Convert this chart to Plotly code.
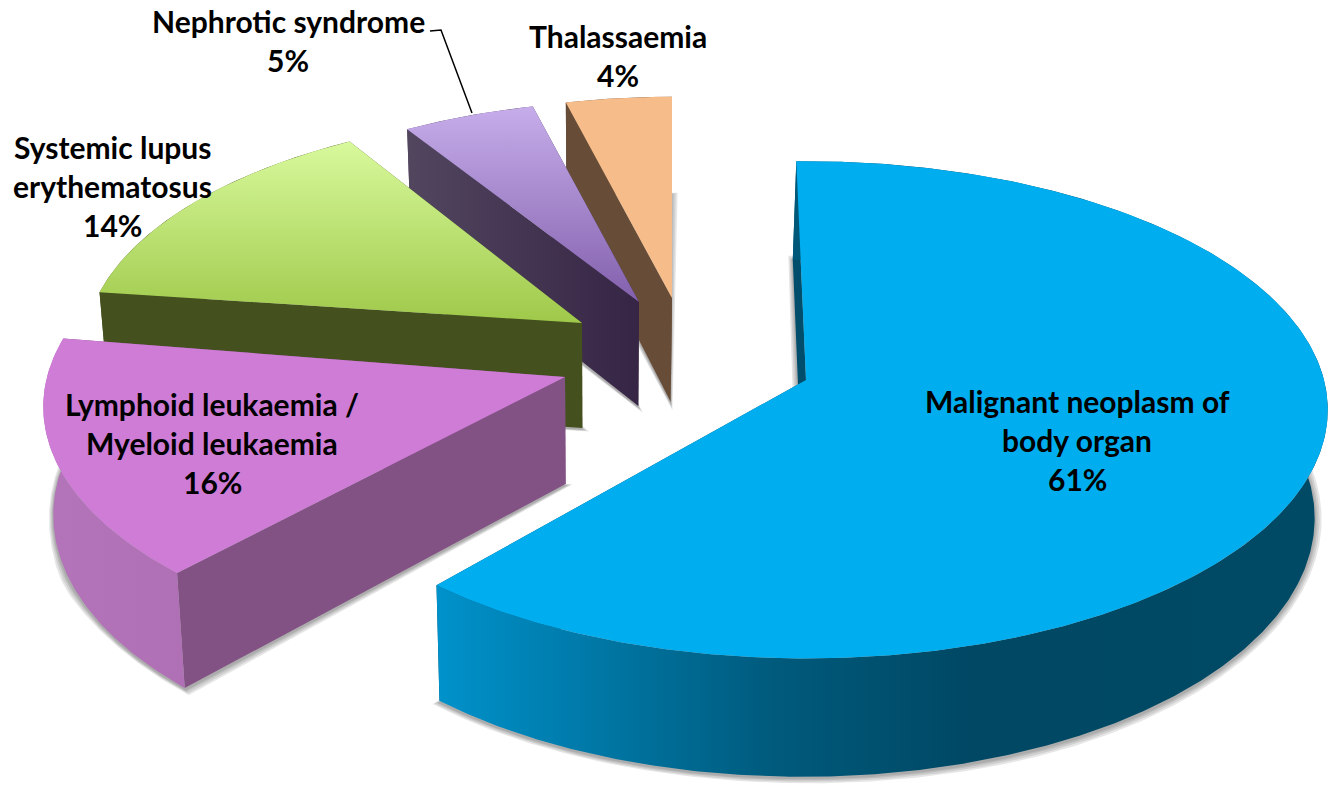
import numpy as np
import plotly.graph_objects as go

categories = ["Malignant neoplasm of body organ",
              "Lymphoid leukaemia / Myeloid leukaemia",
              "Systemic lupus erythematosus",
              "Nephrotic syndrome",
              "Thalassaemia"]
shares = [61, 16, 14, 5, 4]
label_lines = [["Malignant neoplasm of", "body organ"],
               ["Lymphoid leukaemia /", "Myeloid leukaemia"],
               ["Systemic lupus", "erythematosus"],
               ["Nephrotic syndrome"],
               ["Thalassaemia"]]

# exploded-slice layout and look (pixel axes), one entry per slice
apex = [(806, 380), (565, 377), (582, 323), (639, 302), (672, 298)]
scale = [1.0, 1.0, 0.955, 0.92, 0.92]
rot = [(-1.2, 0.8), (3.5, 2.0), (0.5, 1.2), (0, 0), (0, 0)]
label_xy = [(1077, 401), (212, 404), (112, 147), (288, 21), (618, 36)]
top_fill = [
    dict(color="#00AEEF"),
    dict(color="#CE7CD6"),
    dict(v=[[0, "#D8F99C"], [1, "#9FC94A"]]),
    dict(v=[[0, "#C6ADEA"], [1, "#8360AD"]]),
    dict(color="#F6BD8B"),
]
rim_fill = [
    [[0, "#0092CB"], [0.38, "#005A7C"], [0.6, "#004864"], [1, "#004A66"]],
    [[0, "#B374B9"], [1, "#A765AC"]],
    [[0, "#44511F"], [1, "#44511F"]],
    [[0, "#52465F"], [1, "#362545"]],
    [[0, "#674D38"], [1, "#674D38"]],
]
edge_fill = [
    [[0, "#004E6C"], [1, "#004E6C"]],
    [[0, "#835285"], [1, "#835285"]],
    [[0, "#44511F"], [1, "#44511F"]],
    [[0, "#52465F"], [1, "#362545"]],
    [[0, "#674D38"], [1, "#674D38"]],
]

A, B, K = 518.0, 245.0, 0.12


def rim(t0, t1, ax, s):
    """Project an arc of the tilted disc, in perspective, around a slice's apex."""
    t = np.radians(np.linspace(t0, t1, max(12, int(abs(t1 - t0) * 2))))
    u, v = np.sin(t), -np.cos(t)
    d = 1 - K * v
    return ax[0] + s * A * u / d, ax[1] + s * B * v / d


def drop(x, y):
    """Where a top-face point lands on the underside of the pie."""
    return x - (x - 600) * 0.018, y + 92 + 0.04 * y


fig = go.Figure()


def poly(x, y, **kw):
    fig.add_trace(go.Scatter(x=list(x) + [x[0]], y=list(y) + [y[0]], mode="lines",
                             fill="toself", line=dict(width=0), hoverinfo="skip",
                             showlegend=False, **kw))


edges = np.cumsum([0] + shares) / sum(shares) * 360

for i in [4, 3, 2, 1, 0]:
    ax, s = apex[i], scale[i]
    t0, t1 = edges[i] + rot[i][0], edges[i + 1] + rot[i][1]
    rx, ry = rim(t0, t1, ax, s)
    bx, by = drop(rx, ry)
    abx, aby = drop(ax[0], ax[1])
    x_lo, x_hi = float(min(rx.min(), ax[0])), float(max(rx.max(), ax[0]))

    # soft shadow: the underside, widened in a few translucent steps
    fx = np.r_[ax[0], rx]
    fy = np.r_[ax[1], ry]
    gx, gy = drop(fx, fy)
    cx, cy = gx.mean(), gy.mean()
    for grow in (7, 5, 3, 1.5):
        n = np.hypot(gx - cx, gy - cy) + 1e-6
        poly(gx + (gx - cx) / n * grow, gy + (gy - cy) / n * grow + 1.5,
             fillcolor="rgba(60,60,60,0.13)")

    # flat cut faces
    for tx, ty, bbx, bby in [(rx[0], ry[0], bx[0], by[0]), (rx[-1], ry[-1], bx[-1], by[-1])]:
        poly([ax[0], tx, bbx, abx], [ax[1], ty, bby, aby],
             fillgradient=dict(type="horizontal", colorscale=edge_fill[i], start=x_lo, stop=x_hi))

    # curved outer wall
    poly(np.r_[rx, bx[::-1]], np.r_[ry, by[::-1]],
         fillgradient=dict(type="horizontal", colorscale=rim_fill[i], start=x_lo, stop=x_hi))

    # top face
    xs = np.r_[ax[0], rx]
    ys = np.r_[ax[1], ry]
    if "color" in top_fill[i]:
        poly(xs, ys, fillcolor=top_fill[i]["color"])
    else:
        poly(xs, ys, fillgradient=dict(type="vertical", colorscale=top_fill[i]["v"],
                                       start=float(ys.min()), stop=float(ys.max())))

# leader line for Nephrotic syndrome
leader_x = [430, 441, 472]
leader_y = [31, 30, 113]
fig.add_trace(go.Scatter(x=leader_x, y=leader_y, mode="lines", hoverinfo="skip",
                         line=dict(color="black", width=1.5), showlegend=False))

LINE = 39
for lines, share, (lx, ly) in zip(label_lines, shares, label_xy):
    for j, txt in enumerate(lines + [f"{share}%"]):
        fig.add_annotation(x=lx, y=ly + j * LINE, text=f"<b>{txt}</b>", showarrow=False,
                           xanchor="center", yanchor="middle",
                           font=dict(family="Lato", size=30, color="black"))

fig.update_layout(width=1329, height=785, margin=dict(l=0, r=0, t=0, b=0),
                  paper_bgcolor="white", plot_bgcolor="white", showlegend=False,
                  xaxis=dict(range=[0, 1329], visible=False, fixedrange=True),
                  yaxis=dict(range=[785, 0], visible=False, fixedrange=True))
fig.write_html("out.html", post_script="document.body.style.margin='0';",
               config=dict(displayModeBar=False))
